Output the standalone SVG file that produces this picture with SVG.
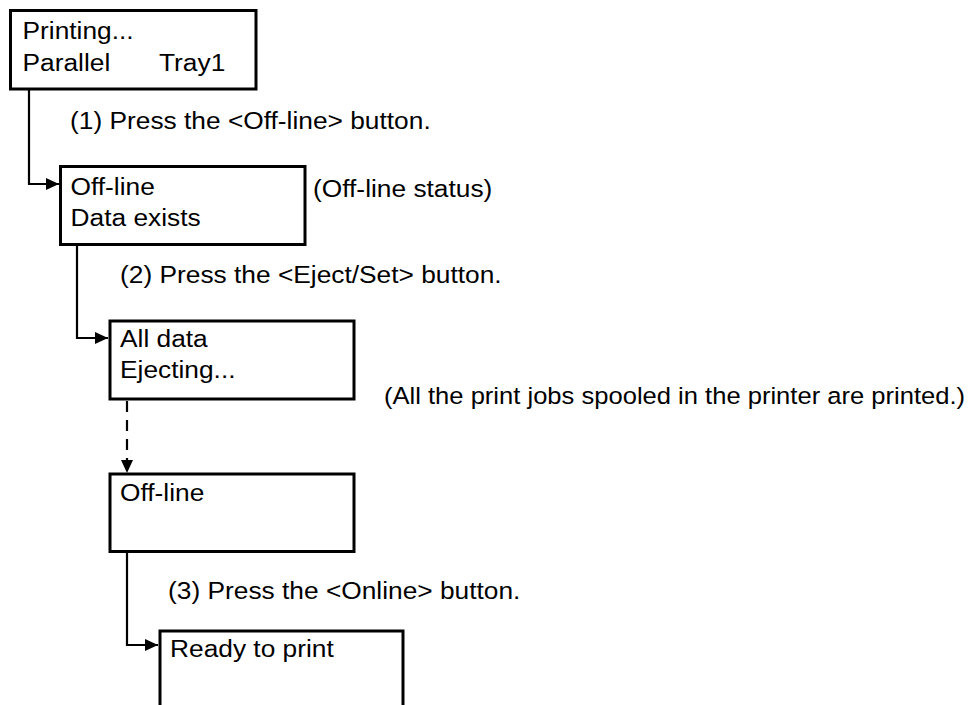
<svg xmlns="http://www.w3.org/2000/svg" width="972" height="705" viewBox="0 0 972 705">
<style>
.box{fill:#fff;stroke:#000;stroke-width:3}
.con{fill:none;stroke:#000;stroke-width:2.2}
.t{font-family:"Liberation Sans",Arial,sans-serif;font-size:23.5px;fill:#000}
</style>
<defs>
<marker id="ah" viewBox="0 0 13 12" refX="13" refY="6" markerWidth="13" markerHeight="12" markerUnits="userSpaceOnUse" orient="auto">
<path d="M0,0 L13,6 L0,12 z" fill="#000"/>
</marker>
</defs>
<rect width="972" height="705" fill="#fff"/>
<g id="connectors">
<path class="con" d="M29,90 V184 H59" marker-end="url(#ah)"/>
<path class="con" d="M77,245 V338 H108" marker-end="url(#ah)"/>
<path class="con" d="M127,401 V473" stroke-dasharray="11 8" marker-end="url(#ah)"/>
<path class="con" d="M127,553 V645 H158" marker-end="url(#ah)"/>
</g>
<g id="n1">
<rect class="box" x="10.5" y="10.5" width="245.5" height="78.5"/>
<text class="t" transform="translate(22.5 39) scale(1.12 1)">Printing...</text>
<text class="t" transform="translate(22.5 71) scale(1.12 1)">Parallel</text>
<text class="t" transform="translate(159 71) scale(1.12 1)">Tray1</text>
</g>
<g id="l1"><text class="t" transform="translate(70 129) scale(1.12 1)">(1) Press the &lt;Off-line&gt; button.</text></g>
<g id="n2">
<rect class="box" x="60.5" y="166.5" width="244.5" height="78"/>
<text class="t" transform="translate(70.5 195) scale(1.12 1)">Off-line</text>
<text class="t" transform="translate(70.5 226) scale(1.12 1)">Data exists</text>
</g>
<g id="l_status"><text class="t" transform="translate(313 197) scale(1.12 1)">(Off-line status)</text></g>
<g id="l2"><text class="t" transform="translate(120 283) scale(1.12 1)">(2) Press the &lt;Eject/Set&gt; button.</text></g>
<g id="n3">
<rect class="box" x="110" y="321" width="244" height="78"/>
<text class="t" transform="translate(120 347) scale(1.12 1)">All data</text>
<text class="t" transform="translate(120 378) scale(1.12 1)">Ejecting...</text>
</g>
<g id="l_jobs"><text class="t" transform="translate(384 404) scale(1.088 1)">(All the print jobs spooled in the printer are printed.)</text></g>
<g id="n4">
<rect class="box" x="110" y="474" width="244" height="77.5"/>
<text class="t" transform="translate(120 501) scale(1.12 1)">Off-line</text>
</g>
<g id="l3"><text class="t" transform="translate(168 599) scale(1.12 1)">(3) Press the &lt;Online&gt; button.</text></g>
<g id="n5">
<path class="box" d="M160,706 V631 H403 V706"/>
<text class="t" transform="translate(170 657) scale(1.12 1)">Ready to print</text>
</g>
</svg>
